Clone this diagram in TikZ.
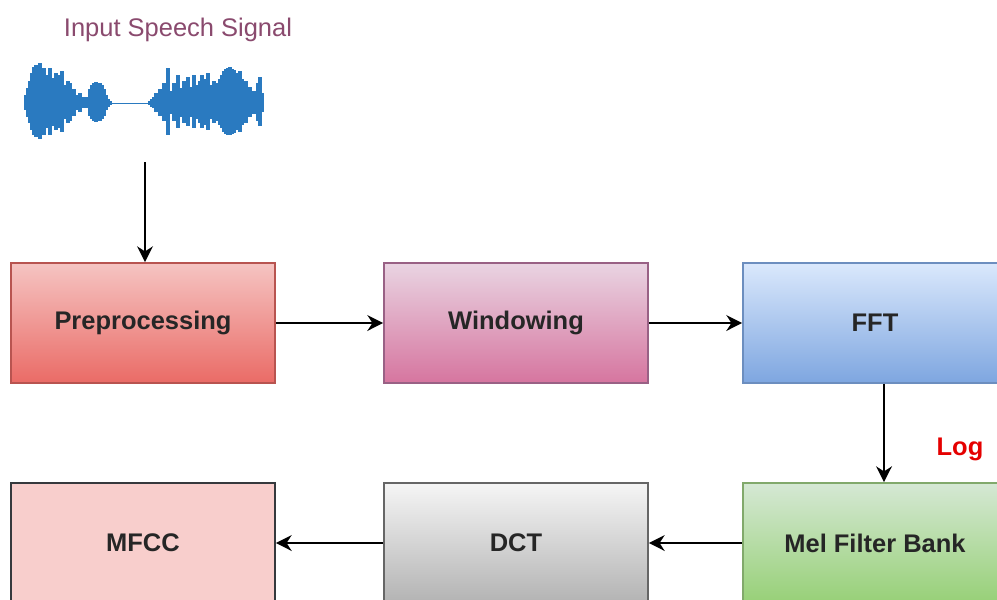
\documentclass[tikz,border=0pt]{standalone}
\usepackage{fontspec}
\setmainfont{Liberation Sans}
\usetikzlibrary{calc,arrows.meta}
\definecolor{wave}{HTML}{2A7AC0}
\definecolor{sigtxt}{HTML}{8A4A6E}
\definecolor{preT}{HTML}{F5C4C2}\definecolor{preB}{HTML}{EA6B66}\definecolor{preD}{HTML}{B85450}
\definecolor{winT}{HTML}{E9D4E2}\definecolor{winB}{HTML}{D6759F}\definecolor{winD}{HTML}{996185}
\definecolor{fftT}{HTML}{DAE8FC}\definecolor{fftB}{HTML}{7EA6E0}\definecolor{fftD}{HTML}{6C8EBF}
\definecolor{melT}{HTML}{D5E8D4}\definecolor{melB}{HTML}{97D077}\definecolor{melD}{HTML}{82B366}
\definecolor{dctT}{HTML}{F5F5F5}\definecolor{dctB}{HTML}{B3B3B3}\definecolor{dctD}{HTML}{666666}
\definecolor{mfccF}{HTML}{F8CECC}\definecolor{mfccD}{HTML}{36393D}
\tikzset{
 blk/.style={draw,line width=1pt,minimum width=5.28cm,minimum height=2.4cm,font=\fontsize{14.5}{17}\selectfont\bfseries,text=black!85},
 flow/.style={-{Stealth[length=9pt,width=9pt]},line width=1.2pt}
}

\begin{document}
\begin{tikzpicture}[x=0.02cm,y=-0.02cm]
 \clip (0,0) rectangle (997,599);
 \fill[white] (0,0) rectangle (997,599);
 % signal
 \node[text=sigtxt,font=\fontsize{14.5}{17}\selectfont] (sigt) at (178,30) {Input Speech Signal};
 \draw[wave,line width=0.5pt] (88,103)--(152,103);
 \foreach \x/\a in {26/8,28/15,30/22,32/30,34/36,36/38,38/32,40/40,42/30,44/35,46/25,48/28,50/35,52/20,54/25,56/30,58/22,60/28,62/32,64/18,66/12,68/22,70/20,72/10,74/14,76/8,78/5,80/10,82/6,84/4,86/6,88/4,90/14,92/18,94/20,96/21,98/20,100/20,102/18,104/14,106/8,108/4,110/2,150/2,152/4,154/6,156/10,158/6,160/14,162/8,164/20,166/10,168/35,170/12,172/8,174/20,176/12,178/28,180/15,182/10,184/22,186/14,188/26,190/16,192/10,194/28,196/18,198/12,200/22,202/28,204/16,206/24,208/30,210/18,212/14,214/22,216/12,218/20,220/24,222/28,224/32,226/34,228/35,230/36,232/34,234/33,236/30,238/28,240/32,242/24,244/14,246/22,248/10,250/16,252/8,254/12,256/6,258/20,260/26,262/10}
  \draw[wave,line width=2.3pt] (\x,103-\a)--(\x,103+0.9*\a);
 \coordinate (sig) at (145,162);
 % blocks
 \node[blk,top color=preT,bottom color=preB,draw=preD] (pre) at (143,323) {Preprocessing};
 \node[blk,top color=winT,bottom color=winB,draw=winD] (win) at (516,323) {Windowing};
 \node[blk,top color=fftT,bottom color=fftB,draw=fftD] (fft) at (875,323) {FFT};
 \node[blk,top color=melT,bottom color=melB,draw=melD!80!gray] (mel) at (875,543) {Mel Filter Bank};
 \node[blk,top color=dctT,bottom color=dctB,draw=dctD] (dct) at (516,543) {DCT};
 \node[blk,fill=mfccF,draw=mfccD] (mfcc) at (143,543) {MFCC};
 \node[text=red!90!black,font=\fontsize{14.5}{17}\selectfont\bfseries] (log) at (960,449) {Log};
 % connectors
 \draw[flow] (sig) -- (sig |- pre.north);
 \draw[flow] (pre) -- (win);
 \draw[flow] (win) -- (fft);
 \draw[flow] ([xshift=0.18cm]fft.south) -- ([xshift=0.18cm]mel.north);
 \draw[flow] (mel) -- (dct);
 \draw[flow] (dct) -- (mfcc);
\end{tikzpicture}
\end{document}
